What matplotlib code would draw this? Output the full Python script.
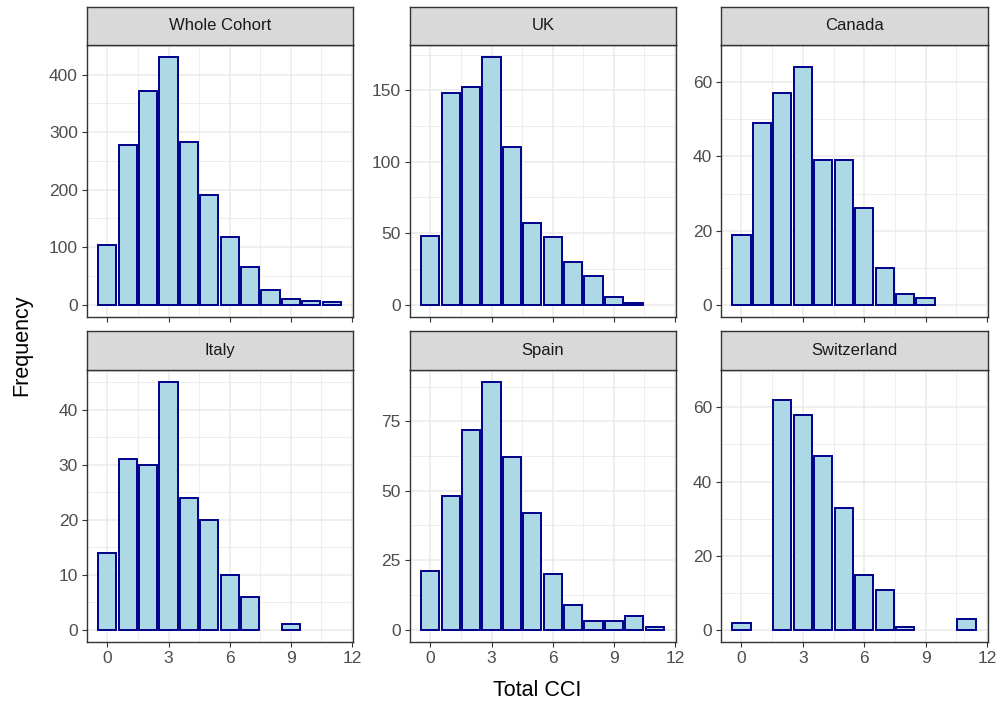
import matplotlib.pyplot as plt
import numpy as np

plt.rcParams['font.family'] = ['Liberation Sans', 'DejaVu Sans']

# Total CCI score (bin centres) and counts per facet
cci = list(range(12))
uk = [48, 148, 152, 173, 110, 57, 47, 30, 20, 5, 1, 0]
canada = [19, 49, 57, 64, 39, 39, 26, 10, 3, 2, 0, 0]
italy = [14, 31, 30, 45, 24, 20, 10, 6, 0, 1, 0, 0]
spain = [21, 48, 72, 89, 62, 42, 20, 9, 3, 3, 5, 1]
switzerland = [2, 0, 62, 58, 47, 33, 15, 11, 1, 0, 0, 3]
whole = [104, 277, 372, 430, 282, 190, 118, 65, 26, 10, 6, 4]

titles = ["Whole Cohort", "UK", "Canada", "Italy", "Spain", "Switzerland"]
counts = [whole, uk, canada, italy, spain, switzerland]
y_breaks = [[0, 100, 200, 300, 400], [0, 50, 100, 150], [0, 20, 40, 60],
            [0, 10, 20, 30, 40], [0, 25, 50, 75], [0, 20, 40, 60]]
x_breaks = [0, 3, 6, 9, 12]

W, H = 1001, 707
fig = plt.figure(figsize=(W / 100, H / 100), dpi=100)

cols = [(87, 353), (410, 676), (721, 988)]
rows = [(7, 45, 317), (331, 370, 642)]  # strip top, plot top, plot bottom

grid_col = "#EBEBEB"
dark = "#333333"

for i, (title, y, yb) in enumerate(zip(titles, counts, y_breaks)):
    r, c = divmod(i, 3)
    x0, x1 = cols[c]
    st, pt, pb = rows[r]
    ax = fig.add_axes([x0 / W, 1 - pb / H, (x1 - x0) / W, (pb - pt) / H])
    sx = fig.add_axes([x0 / W, 1 - pt / H, (x1 - x0) / W, (pt - st) / H])

    # empty bins are not drawn
    xs = [x for x, v in zip(cci, y) if v > 0]
    vs = [v for v in y if v > 0]
    ax.bar(xs, vs, width=0.89, color="#ADD8E6", edgecolor="#00008B",
           linewidth=1.4, zorder=3)
    ymax = max(y)
    ax.set_xlim(-1.0, 12.05)
    ax.set_ylim(-0.05 * ymax, 1.05 * ymax)
    ax.set_xticks(x_breaks)
    ax.set_xticks([1.5, 4.5, 7.5, 10.5], minor=True)
    ax.set_yticks(yb)
    step = yb[1] - yb[0]
    ax.set_yticks([v + step / 2 for v in yb], minor=True)
    ax.grid(which="major", color=grid_col, linewidth=1.1, zorder=0)
    ax.grid(which="minor", color=grid_col, linewidth=0.6, zorder=0)
    ax.tick_params(which="minor", length=0)
    ax.tick_params(which="major", length=3.5, width=0.8, color=dark,
                   labelsize=12.5, labelcolor="#4D4D4D", pad=3)
    if r == 0:
        ax.tick_params(axis="x", labelbottom=False)
    for s in ax.spines.values():
        s.set_color(dark)
        s.set_linewidth(1.0)

    sx.set_facecolor("#D9D9D9")
    sx.set_xticks([])
    sx.set_yticks([])
    for s in sx.spines.values():
        s.set_color(dark)
        s.set_linewidth(1.0)
    sx.text(0.5, 0.5, title, ha="center", va="center", fontsize=12,
            color="#1A1A1A", transform=sx.transAxes)

fig.text(537 / W, 1 - 690 / H, "Total CCI", ha="center", va="center", fontsize=15.5)
fig.text(22 / W, 1 - 345 / H, "Frequency", ha="center", va="center",
         rotation=90, fontsize=15.5)

fig.savefig("out.png", dpi=100, facecolor="white")
